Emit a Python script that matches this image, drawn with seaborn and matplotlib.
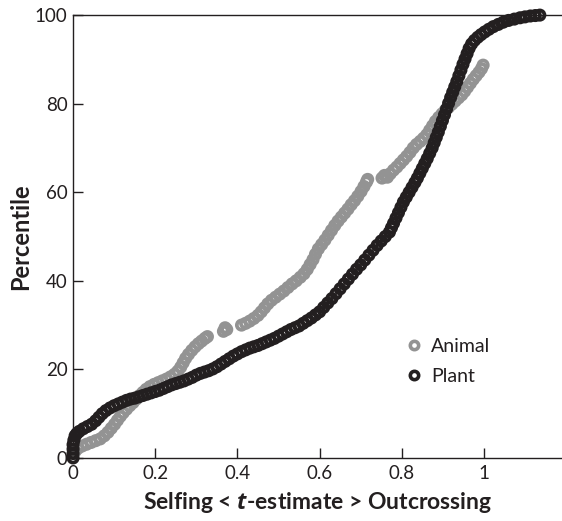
"""
Percentile of outcrossing-rate (t) estimates for animal and plant species
"""
import matplotlib
matplotlib.use("Agg")
import matplotlib.pyplot as plt
from matplotlib.lines import Line2D
import pandas as pd
import seaborn as sns

sns.set_style("ticks")
plt.rcParams["font.family"] = ["Lato", "DejaVu Sans"]
plt.rcParams["mathtext.fontset"] = "custom"
plt.rcParams["mathtext.it"] = "Open Sans:italic:bold"

INK = "#231f20"
GREY = "#939393"

# values: t-estimate and percentile, one entry per species
animal_t = [
    0.005, 0.012, 0.022, 0.033, 0.044, 0.055, 0.066, 0.076, 0.085, 0.093,
    0.101, 0.108, 0.115, 0.122, 0.130, 0.138, 0.146, 0.154, 0.162, 0.170,
    0.178, 0.187, 0.197, 0.207, 0.217, 0.227, 0.237, 0.247, 0.255, 0.262,
    0.268, 0.274, 0.281, 0.289, 0.297, 0.305, 0.313, 0.321, 0.327,
    0.366, 0.370, 0.374,
    0.410, 0.420, 0.430, 0.440, 0.450, 0.458, 0.466, 0.474, 0.483, 0.493,
    0.503, 0.513, 0.523, 0.533, 0.543, 0.553, 0.562, 0.570, 0.577, 0.584,
    0.590, 0.597, 0.605, 0.613, 0.621, 0.629, 0.637, 0.645, 0.653, 0.661,
    0.669, 0.677, 0.685, 0.693, 0.701, 0.708, 0.714, 0.717,
    0.752, 0.758, 0.765, 0.772, 0.780, 0.788, 0.796, 0.804, 0.812, 0.820,
    0.828, 0.836, 0.845, 0.853, 0.861, 0.868, 0.875, 0.882, 0.890, 0.898,
    0.906, 0.914, 0.922, 0.930, 0.938, 0.946, 0.953, 0.960, 0.967, 0.974,
    0.981, 0.988, 0.994, 0.998,
]
animal_pct = [
    1.5, 2.2, 2.7, 3.1, 3.5, 3.9, 4.3, 5.0, 5.8, 6.7,
    7.6, 8.5, 9.4, 10.2, 11.0, 11.8, 12.5, 13.3, 14.1, 14.8,
    15.5, 16.1, 16.6, 17.0, 17.4, 17.8, 18.3, 18.9, 19.6, 20.5,
    21.5, 22.5, 23.4, 24.3, 25.1, 25.8, 26.4, 27.0, 27.4,
    28.6, 29.4, 29.0,
    30.0, 30.4, 30.9, 31.5, 32.2, 33.0, 33.9, 34.8, 35.6, 36.3,
    37.0, 37.7, 38.5, 39.3, 40.0, 40.8, 41.6, 42.6, 43.7, 44.8,
    46.0, 47.2, 48.2, 49.2, 50.3, 51.4, 52.5, 53.5, 54.4, 55.3,
    56.2, 57.2, 58.1, 59.1, 60.2, 61.3, 62.3, 62.9,
    63.2, 63.8, 63.4, 64.2, 65.0, 65.7, 66.5, 67.3, 68.1, 69.0,
    70.0, 70.8, 71.5, 72.2, 73.0, 74.0, 75.0, 76.0, 76.9, 77.7,
    78.5, 79.2, 79.9, 80.6, 81.3, 82.0, 82.8, 83.7, 84.6, 85.5,
    86.3, 87.1, 87.9, 88.7,
]

plant_t = [
    0.000, 0.000, 0.000, 0.000, 0.002, 0.005, 0.009,
    0.015, 0.025, 0.035, 0.045, 0.055, 0.063, 0.071, 0.080, 0.090, 0.100,
    0.110, 0.120, 0.130, 0.140, 0.150, 0.160, 0.170, 0.180, 0.190, 0.200,
    0.210, 0.220, 0.230, 0.240, 0.250, 0.260, 0.270, 0.280, 0.290, 0.300,
    0.310, 0.320, 0.330, 0.340, 0.350, 0.360, 0.370, 0.380, 0.390, 0.400,
    0.410, 0.420, 0.430, 0.440, 0.450, 0.460, 0.470, 0.480, 0.490, 0.500,
    0.510, 0.520, 0.530, 0.540, 0.550, 0.560, 0.570, 0.580, 0.590, 0.600,
    0.610, 0.620, 0.630, 0.640, 0.650, 0.660, 0.670, 0.680, 0.690, 0.700,
    0.710, 0.720, 0.730, 0.740, 0.750, 0.760, 0.770, 0.775, 0.780, 0.786,
    0.792, 0.798, 0.804, 0.811, 0.818, 0.825, 0.832, 0.838, 0.844, 0.850,
    0.856, 0.862, 0.868, 0.874, 0.879, 0.884, 0.889, 0.894, 0.899, 0.904,
    0.909, 0.914, 0.919, 0.924, 0.929, 0.934, 0.939, 0.944, 0.949, 0.954,
    0.959, 0.964, 0.970, 0.977, 0.985, 0.993, 1.002, 1.012, 1.023, 1.035,
    1.047, 1.060, 1.074, 1.088, 1.100, 1.113, 1.125, 1.136,
]
plant_pct = [
    0.0, 1.0, 2.0, 3.0, 4.0, 5.0, 5.5,
    6.0, 6.6, 7.1, 7.6, 8.4, 9.2, 10.0, 10.7, 11.3, 11.8,
    12.2, 12.6, 13.0, 13.3, 13.5, 13.8, 14.1, 14.4, 14.7, 15.0,
    15.3, 15.7, 16.1, 16.5, 16.8, 17.1, 17.4, 17.8, 18.2, 18.7,
    19.1, 19.4, 19.7, 20.1, 20.6, 21.2, 21.8, 22.4, 23.0, 23.5,
    24.0, 24.4, 24.8, 25.1, 25.4, 25.8, 26.2, 26.6, 27.0, 27.5,
    28.0, 28.5, 29.0, 29.4, 29.8, 30.4, 31.0, 31.6, 32.3, 33.0,
    34.0, 35.0, 36.0, 37.1, 38.2, 39.3, 40.4, 41.5, 42.6, 43.6,
    44.7, 45.8, 46.9, 48.0, 49.0, 50.0, 51.0, 52.0, 53.0, 54.2,
    55.4, 56.6, 57.8, 58.9, 60.0, 61.1, 62.2, 63.2, 64.3, 65.4,
    66.5, 67.6, 68.8, 70.0, 71.2, 72.4, 73.6, 74.9, 76.2, 77.5,
    78.8, 80.1, 81.4, 82.6, 83.8, 85.0, 86.3, 87.6, 88.9, 90.1,
    91.3, 92.5, 93.5, 94.3, 95.0, 95.6, 96.2, 96.8, 97.4, 97.9,
    98.4, 98.8, 99.1, 99.4, 99.6, 99.8, 99.9, 100.0,
]

x_ticks = [0, 0.2, 0.4, 0.6, 0.8, 1]
x_ticklabels = ["0", "0.2", "0.4", "0.6", "0.8", "1"]
y_ticks = [0, 20, 40, 60, 80, 100]

animals = pd.DataFrame({"t": animal_t, "pct": animal_pct})
plants = pd.DataFrame({"t": plant_t, "pct": plant_pct})

fig = plt.figure(figsize=(5.62, 5.21), dpi=100)
ax = fig.add_axes([0.130, 0.121, 0.870, 0.850])

for df, col in [(animals, GREY), (plants, INK)]:
    sns.scatterplot(data=df, x="t", y="pct", ax=ax, marker="o", s=45,
                    facecolor="none", edgecolor=col, linewidth=2.7,
                    clip_on=False, zorder=3, legend=False)

ax.set_xlim(0, 1.19)
ax.set_ylim(0, 100)
ax.set_xticks(x_ticks)
ax.set_xticklabels(x_ticklabels)
ax.set_yticks(y_ticks)
ax.tick_params(direction="in", length=7, width=1, color=INK, labelcolor=INK,
               labelsize=13.5)
ax.tick_params(axis="x", pad=5)
ax.tick_params(axis="y", pad=4)

for side in ["left", "bottom", "top"]:
    ax.spines[side].set_color(INK)
    ax.spines[side].set_linewidth(1.0)
ax.spines["right"].set_visible(False)

ax.set_xlabel("Selfing < $\\mathit{t}$-estimate > Outcrossing",
              fontsize=16.5, fontweight="bold", color=INK, labelpad=6)
ax.set_ylabel("Percentile", fontsize=17, fontweight="bold", color=INK,
              labelpad=2)

handles = [Line2D([], [], linestyle="none", marker="o", markersize=6.0,
                  markerfacecolor="none", markeredgecolor=c, markeredgewidth=2.6)
           for c in (GREY, INK)]
ax.legend(handles, ["Animal", "Plant"], loc="upper left",
          bbox_to_anchor=(0.645, 0.31), frameon=False, fontsize=14,
          handlelength=0.8, handletextpad=0.5, labelspacing=0.65,
          labelcolor=INK)

fig.savefig("out.png", dpi=100)
